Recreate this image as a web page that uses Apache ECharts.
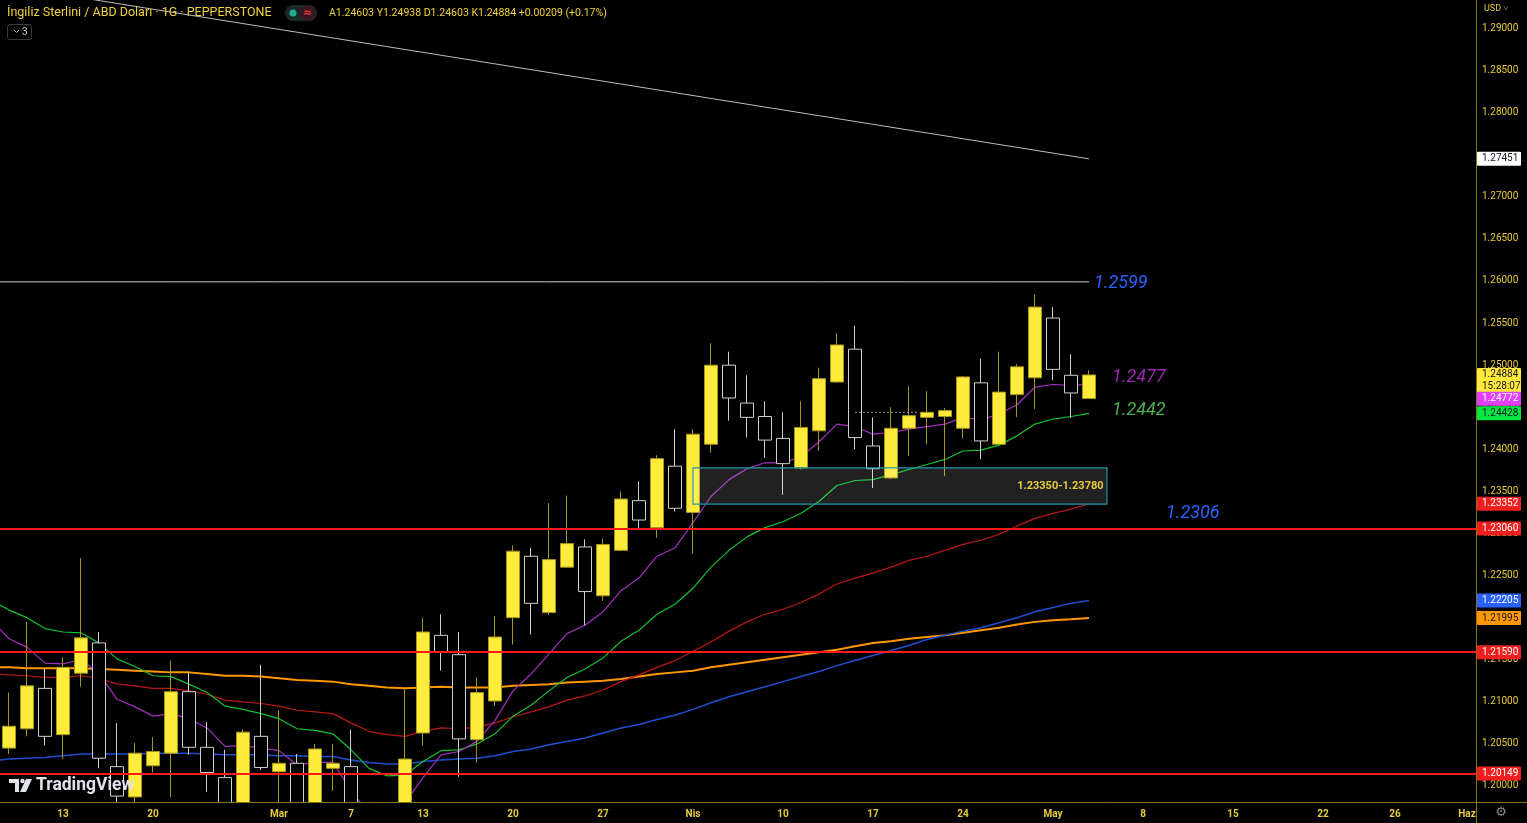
<!DOCTYPE html>
<html><head><meta charset="utf-8">
<script src="https://cdn.jsdelivr.net/npm/echarts@6/dist/echarts.min.js"></script>
<style>html,body{margin:0;padding:0;background:#000;}#c{width:1527px;height:823px;}</style>
</head><body><div id="c"></div>
<script>
// ---- categories (trading days) ----
const dates = [
 '2023-02-08','2023-02-09','2023-02-10',
 '2023-02-13','2023-02-14','2023-02-15','2023-02-16','2023-02-17',
 '2023-02-20','2023-02-21','2023-02-22','2023-02-23','2023-02-24',
 '2023-02-27','2023-02-28','2023-03-01','2023-03-02','2023-03-03',
 '2023-03-06','2023-03-07','2023-03-08','2023-03-09','2023-03-10',
 '2023-03-13','2023-03-14','2023-03-15','2023-03-16','2023-03-17',
 '2023-03-20','2023-03-21','2023-03-22','2023-03-23','2023-03-24',
 '2023-03-27','2023-03-28','2023-03-29','2023-03-30','2023-03-31',
 '2023-04-03','2023-04-04','2023-04-05','2023-04-06','2023-04-07',
 '2023-04-10','2023-04-11','2023-04-12','2023-04-13','2023-04-14',
 '2023-04-17','2023-04-18','2023-04-19','2023-04-20','2023-04-21',
 '2023-04-24','2023-04-25','2023-04-26','2023-04-27','2023-04-28',
 '2023-05-01','2023-05-02','2023-05-03','2023-05-04','2023-05-05',
 '2023-05-08','2023-05-09','2023-05-10','2023-05-11','2023-05-12',
 '2023-05-15','2023-05-16','2023-05-17','2023-05-18','2023-05-19',
 '2023-05-22','2023-05-23','2023-05-24','2023-05-25','2023-05-26',
 '2023-05-29','2023-05-30','2023-05-31','2023-06-01'
];
// ---- candles [open, close, low, high] ----
const candles = [
 [1.2045,1.2071,1.2038,1.2111],[1.2068,1.2119,1.2059,1.2195],[1.2116,1.2059,1.2048,1.2140],
 [1.2061,1.2141,1.2032,1.2153],[1.2134,1.2176,1.2118,1.2271],[1.2170,1.2033,1.2021,1.2183],[1.2023,1.1988,1.1965,1.2075],[1.1987,1.2039,1.1915,1.2051],
 [1.2024,1.2041,1.2016,1.2058],[1.2039,1.2112,1.1987,1.2149],[1.2112,1.2046,1.2037,1.2136],[1.2046,1.2016,1.1993,1.2076],[1.2010,1.1945,1.1925,1.2043],
 [1.1945,1.2064,1.1925,1.2067],[1.2059,1.2022,1.2019,1.2144],[1.2017,1.2027,1.1940,1.2090],[1.2027,1.1950,1.1920,1.2038],[1.1955,1.2044,1.1940,1.2050],
 [1.2021,1.2027,1.1994,1.2050],[1.2023,1.1830,1.1810,1.2067],[1.1830,1.1835,1.1805,1.1865],[1.1835,1.1955,1.1815,1.1965],[1.1955,1.2032,1.1935,1.2115],
 [1.2063,1.2183,1.2048,1.2200],[1.2179,1.2159,1.2137,1.2204],[1.2156,1.2056,1.2011,1.2183],[1.2055,1.2111,1.2028,1.2129],[1.2101,1.2177,1.2095,1.2202],
 [1.2200,1.2279,1.2168,1.2286],[1.2273,1.2217,1.2180,1.2283],[1.2206,1.2269,1.2203,1.2336],[1.2260,1.2288,1.2259,1.2345],[1.2284,1.2231,1.2191,1.2293],
 [1.2226,1.2287,1.2220,1.2294],[1.2280,1.2341,1.2279,1.2350],[1.2339,1.2316,1.2304,1.2362],[1.2307,1.2389,1.2295,1.2393],[1.2380,1.2330,1.2326,1.2424],
 [1.2325,1.2418,1.2276,1.2424],[1.2406,1.2500,1.2396,1.2526],[1.2500,1.2461,1.2434,1.2516],[1.2455,1.2438,1.2414,1.2488],[1.2439,1.2411,1.2390,1.2457],
 [1.2413,1.2383,1.2346,1.2444],[1.2378,1.2426,1.2376,1.2457],[1.2422,1.2484,1.2398,1.2497],[1.2480,1.2524,1.2479,1.2538],[1.2519,1.2414,1.2400,1.2547],
 [1.2404,1.2377,1.2354,1.2438],[1.2366,1.2425,1.2365,1.2450],[1.2425,1.2440,1.2392,1.2475],[1.2438,1.2444,1.2406,1.2469],[1.2439,1.2446,1.2368,1.2449],
 [1.2425,1.2486,1.2413,1.2487],[1.2479,1.2410,1.2388,1.2508],[1.2406,1.2468,1.2405,1.2516],[1.2465,1.2498,1.2438,1.2501],[1.2485,1.2569,1.2448,1.2584],
 [1.2556,1.2495,1.2482,1.2569],[1.2488,1.2467,1.2437,1.2513],[1.24603,1.24884,1.24603,1.24938]
];
// ---- moving averages: first value is read at the left edge of the plot, then one value per bar ----
const maPurple = [1.2186,1.2175,1.2165,1.2146,1.2145,1.2150,1.2134,1.2103,1.2094,1.2083,1.2086,1.2080,1.2069,1.2047,1.2048,1.2045,1.2042,1.2025,1.2028,1.2028,
 1.1994,1.1968,1.1962,1.1980,1.2010,1.2037,1.2041,1.2053,1.2078,1.2113,1.2133,1.2157,1.2181,1.2191,1.2207,1.2232,1.2247,1.2273,1.2283,1.2313,
 1.2344,1.2364,1.2377,1.2384,1.2384,1.2391,1.2409,1.2430,1.2427,1.2418,1.2420,1.2424,1.2427,1.2430,1.2438,1.2435,1.2442,1.2453,1.2474,1.2477,1.2476,1.24772];
const maGreen = [1.2215,1.2209,1.2200,1.2187,1.2183,1.2182,1.2170,1.2151,1.2142,1.2131,1.2130,1.2121,1.2111,1.2095,1.2091,1.2086,1.2080,1.2068,1.2066,1.2062,
 1.2043,1.2021,1.2012,1.2013,1.2029,1.2042,1.2043,1.2050,1.2062,1.2083,1.2096,1.2113,1.2129,1.2139,1.2152,1.2172,1.2185,1.2204,1.2216,1.2235,
 1.2260,1.2280,1.2296,1.2307,1.2314,1.2324,1.2338,1.2357,1.2363,1.2364,1.2370,1.2376,1.2382,1.2388,1.2398,1.2399,1.2405,1.2416,1.2430,1.2436,1.2439,1.24428];
const maRed = [1.2133,1.2132,1.2131,1.2129,1.2129,1.2131,1.2128,1.2121,1.2119,1.2116,1.2116,1.2113,1.2109,1.2102,1.2100,1.2098,1.2095,1.2090,1.2088,1.2086,
 1.2075,1.2065,1.2061,1.2059,1.2065,1.2069,1.2068,1.2070,1.2075,1.2082,1.2088,1.2094,1.2102,1.2107,1.2114,1.2124,1.2132,1.2141,1.2149,1.2160,
 1.2171,1.2184,1.2195,1.2204,1.2210,1.2218,1.2228,1.2240,1.2247,1.2253,1.2260,1.2268,1.2273,1.2280,1.2287,1.2292,1.2299,1.2309,1.2318,1.2324,1.2329,1.23352];
const maBlue = [1.2031,1.2032,1.2033,1.2034,1.2036,1.2038,1.2038,1.2038,1.2038,1.2039,1.2039,1.2039,1.2038,1.2037,1.2037,1.2037,1.2036,1.2036,1.2035,1.2035,
 1.2031,1.2028,1.2026,1.2026,1.2029,1.2031,1.2032,1.2033,1.2036,1.2041,1.2044,1.2049,1.2053,1.2057,1.2063,1.2069,1.2073,1.2079,1.2084,1.2091,
 1.2099,1.2106,1.2112,1.2118,1.2124,1.2130,1.2136,1.2143,1.2149,1.2155,1.2161,1.2167,1.2174,1.2179,1.2184,1.2188,1.2194,1.2200,1.2207,1.2212,1.2217,1.22205];
const maOrange = [1.2141,1.2141,1.2140,1.2140,1.2140,1.2140,1.2139,1.2138,1.2137,1.2136,1.2135,1.2135,1.2133,1.2131,1.2131,1.2130,1.2128,1.2126,1.2125,1.2124,
 1.2121,1.2119,1.2117,1.2116,1.2117,1.2118,1.2117,1.2117,1.2117,1.2119,1.2120,1.2121,1.2123,1.2124,1.2125,1.2127,1.2130,1.2133,1.2135,1.2137,
 1.2141,1.2144,1.2147,1.2150,1.2153,1.2156,1.2159,1.2162,1.2166,1.2170,1.2172,1.2175,1.2177,1.2179,1.2182,1.2185,1.2188,1.2192,1.2195,1.2197,1.2198,1.21995];
// ---- levels / drawings ----
const redLevels = [1.2306, 1.2159, 1.20149];
const zoneLow = 1.2335, zoneHigh = 1.2378;
const zoneFrom = 38, zoneTo = 61;   // bar indexes (Apr 3 .. May 4)
const resistance = 1.2599;
const trendStart = 1.2952, trendEnd = 1.27451;
const dottedLevel = 1.2444;
const lastPrice = 1.24884, lastTime = '15:28:07';
const noteTexts = ['1.2599', '1.2477', '1.2442', '1.2306'];
const noteValues = [1.2599, 1.2477, 1.2442, 1.2306];
// ---- axis ticks ----
const yTicks = [1.20,1.205,1.21,1.215,1.22,1.225,1.23,1.235,1.24,1.245,1.25,1.255,1.26,1.265,1.27,1.28,1.285,1.29];
const xTickDates = ['2023-02-13','2023-02-20','2023-03-01','2023-03-07','2023-03-13','2023-03-20','2023-03-27','2023-04-03','2023-04-10','2023-04-17','2023-04-24','2023-05-01','2023-05-08','2023-05-15','2023-05-22','2023-05-26','2023-06-01'];
const xTickLabels = ['13','20','Mar','7','13','20','27','Nis','10','17','24','May','8','15','22','26','Haz'];

const YEL = '#e8cc3e';
const AXIS = '#8a7616';
const FONT = 'Roboto';
const lastIdx = candles.length - 1;
const xLabelMap = {};
xTickDates.forEach((d, i) => xLabelMap[d] = xTickLabels[i]);
const maData = arr => arr.map((v, i) => [i === 0 ? -0.5 : i - 1, v]);

function tag(value, text, bg, fg, offset) {
  return {
    yAxis: value,
    lineStyle: { color: 'rgba(0,0,0,0)', width: 0 },
    label: { show: true, position: 'end', distance: 1, formatter: text, backgroundColor: bg, color: fg,
      fontFamily: FONT, fontSize: 10, padding: [1, 5, 1, 5], width: 34, lineHeight: 12, borderRadius: 1,
      offset: offset || [0, 0] }
  };
}
function redLine(v) {
  return {
    yAxis: v,
    lineStyle: { color: '#ff1a1a', width: 2, type: 'solid' },
    label: { show: true, position: 'end', distance: 1, formatter: v.toFixed(5), backgroundColor: '#f01e1e', color: '#fff',
      fontFamily: FONT, fontSize: 10, padding: [1, 5, 1, 5], width: 34, lineHeight: 12, borderRadius: 1 }
  };
}
function txt(coord, text, color, offset) {
  return { coord: coord, symbol: 'circle', symbolSize: 0, itemStyle: { color: 'transparent' },
    label: { show: true, position: 'right', distance: 5, formatter: text, color: color, fontSize: 18,
      fontStyle: 'italic', fontFamily: FONT, offset: offset } };
}

const chart = echarts.init(document.getElementById('c'), null, { renderer: 'canvas' });
const lineBase = { type: 'line', xAxisIndex: 1, showSymbol: false, symbol: 'none', smooth: false, z: 2, silent: true, animation: false, clip: true };

chart.setOption({
  backgroundColor: '#000000',
  animation: false,
  grid: { left: 0, right: 51, top: 0, bottom: 21, containLabel: false },
  xAxis: [{
    type: 'category', data: dates, boundaryGap: true, z: 10,
    axisLine: { show: true, onZero: false, lineStyle: { color: AXIS, width: 1 } },
    axisTick: { show: false },
    splitLine: { show: false },
    axisLabel: {
      color: YEL, fontFamily: FONT, fontSize: 10, fontWeight: 'bold', margin: 7,
      interval: (idx, v) => xLabelMap[v] !== undefined,
      formatter: v => xLabelMap[v] || ''
    }
  }, {
    // same bar positions as the category axis, but able to place points between bars
    type: 'value', min: -0.5, max: dates.length - 0.5, show: false,
    axisLine: { show: false, onZero: false }, splitLine: { show: false }
  }],
  yAxis: {
    type: 'value', position: 'right', min: 1.198099, max: 1.293386, scale: true,
    axisLine: { show: true, onZero: false, lineStyle: { color: AXIS, width: 1 } },
    axisTick: { show: false },
    splitLine: { show: false },
    axisLabel: { color: YEL, fontFamily: FONT, fontSize: 10, margin: 6, customValues: yTicks,
      formatter: v => v.toFixed(5) }
  },
  series: [
    Object.assign({}, lineBase, { name: 'trend', data: [[-0.5, trendStart], [lastIdx, trendEnd]], lineStyle: { color: '#bdbdbd', width: 1 } }),
    Object.assign({}, lineBase, { name: 'res', data: [[-0.5, resistance], [lastIdx, resistance]], lineStyle: { color: '#cfcfcf', width: 1 } }),
    Object.assign({}, lineBase, { name: 'orange', data: maData(maOrange), lineStyle: { color: '#ff9800', width: 2 } }),
    Object.assign({}, lineBase, { name: 'blue', data: maData(maBlue), lineStyle: { color: '#1f4fd0', width: 1.5 } }),
    Object.assign({}, lineBase, { name: 'red', data: maData(maRed), lineStyle: { color: '#b81818', width: 1.2 } }),
    Object.assign({}, lineBase, { name: 'green', data: maData(maGreen), lineStyle: { color: '#12c22e', width: 1.2 } }),
    Object.assign({}, lineBase, { name: 'purple', data: maData(maPurple), lineStyle: { color: '#a12fc0', width: 1.2 } }),
    {
      type: 'candlestick', name: 'GBPUSD', xAxisIndex: 0, data: candles, barWidth: 13, z: 3, silent: true, animation: false,
      itemStyle: { color: '#ffeb3b', color0: '#000000', borderColor: '#a8961a', borderColor0: '#cfcfcf', borderWidth: 1 },
      markLine: {
        silent: true, symbol: ['none', 'none'], animation: false, precision: 6,
        data: [
          redLine(redLevels[0]), redLine(redLevels[1]), redLine(redLevels[2]),
          tag(trendEnd, trendEnd.toFixed(5), '#ffffff', '#131722'),
          tag(lastPrice, lastPrice.toFixed(5) + '\n' + lastTime, '#ffe93b', '#131722', [0, 6]),
          tag(maPurple[maPurple.length - 1], maPurple[maPurple.length - 1].toFixed(5), '#e040fb', '#ffffff', [0, 14.5]),
          tag(maGreen[maGreen.length - 1], maGreen[maGreen.length - 1].toFixed(5), '#00e640', '#131722', [0, 0]),
          tag(maRed[maRed.length - 1], maRed[maRed.length - 1].toFixed(5), '#f01e1e', '#ffffff'),
          tag(maBlue[maBlue.length - 1], maBlue[maBlue.length - 1].toFixed(5), '#2962ff', '#ffffff'),
          tag(maOrange[maOrange.length - 1], maOrange[maOrange.length - 1].toFixed(5), '#ff9800', '#131722')
        ]
      },
      markPoint: {
        silent: true, animation: false,
        data: [
          txt([lastIdx, noteValues[0]], noteTexts[0], '#2962ff', [0, 2]),
          txt([lastIdx, noteValues[1]], noteTexts[1], '#9c27b0', [18, -7]),
          txt([lastIdx, noteValues[2]], noteTexts[2], '#4caf50', [18, -3]),
          txt([lastIdx + 4, noteValues[3]], noteTexts[3], '#2962ff', [0, -15])
        ]
      }
    },
    // drawings above the candles: dotted level and the support zone box
    Object.assign({}, lineBase, {
      name: 'dot', z: 4, data: [[47, dottedLevel], [50.5, dottedLevel]], lineStyle: { color: '#9a9a9a', width: 1, type: [2, 2] },
      markArea: {
        silent: true, z: 4,
        itemStyle: { color: 'rgba(255,255,255,0.13)', borderColor: '#2296a8', borderWidth: 1.2 },
        label: { show: true, position: 'insideRight', distance: 4, color: YEL, fontFamily: FONT, fontSize: 11, fontWeight: 'bold',
          formatter: zoneLow.toFixed(5) + '-' + zoneHigh.toFixed(5) },
        data: [[{ coord: [zoneFrom, zoneHigh] }, { coord: [zoneTo, zoneLow] }]]
      }
    })
  ],
  graphic: [
    // cover for candle parts that fall below the plot
    { type: 'rect', z: 5, shape: { x: 0, y: 803, width: 1476, height: 20 }, style: { fill: '#000' }, silent: true },
    { type: 'text', x: 7, y: 13, z: 10, style: { text: 'İngiliz Sterlini / ABD Doları · 1G · PEPPERSTONE', fill: '#f2d03a', font: '12.5px Roboto', align: 'left', verticalAlign: 'middle' } },
    { type: 'rect', z: 10, shape: { x: 285, y: 5, width: 32, height: 16, r: 8 }, style: { fill: '#1b2a26' } },
    { type: 'circle', z: 11, shape: { cx: 293, cy: 13, r: 3.5 }, style: { fill: '#22ab94' } },
    { type: 'rect', z: 11, shape: { x: 300, y: 6, width: 15, height: 14, r: 7 }, style: { fill: '#3b1622' } },
    { type: 'text', z: 12, x: 307.5, y: 13, style: { text: '≈', fill: '#f23645', font: 'bold 11px DejaVu Sans', align: 'center', verticalAlign: 'middle' } },
    { type: 'text', z: 10, x: 329, y: 13, style: { text: 'A1.24603 Y1.24938 D1.24603 K1.24884 +0.00209 (+0.17%)', fill: '#f2d03a', font: '10.5px Roboto', align: 'left', verticalAlign: 'middle' } },
    { type: 'rect', z: 10, shape: { x: 7.5, y: 24.5, width: 24, height: 15, r: 2 }, style: { fill: '#000', stroke: '#3a3a3a', lineWidth: 1 } },
    { type: 'polyline', z: 11, shape: { points: [[14, 30], [16.5, 32.5], [19, 30]] }, style: { stroke: '#b8b8b8', lineWidth: 1, fill: null } },
    { type: 'text', z: 11, x: 22, y: 32, style: { text: '3', fill: '#c8c8c8', font: '10px Roboto', align: 'left', verticalAlign: 'middle' } },
    { type: 'text', z: 10, x: 1484, y: 9, style: { text: 'USD ˅', fill: YEL, font: '9px Roboto', align: 'left', verticalAlign: 'middle' } },
    { type: 'line', z: 10, shape: { x1: 1476.5, y1: 0, x2: 1476.5, y2: 823 }, style: { stroke: AXIS, lineWidth: 1 } },
    { type: 'line', z: 10, shape: { x1: 1476, y1: 802.5, x2: 1527, y2: 802.5 }, style: { stroke: AXIS, lineWidth: 1 } },
    { type: 'text', z: 10, x: 1501, y: 813, style: { text: '⚙', fill: '#8a8a8a', font: '13px DejaVu Sans', align: 'center', verticalAlign: 'middle' } },
    // TradingView watermark
    { type: 'polygon', z: 10, shape: { points: [[9, 779], [19, 779], [19, 792], [15, 792], [15, 783], [9, 783]] }, style: { fill: '#dfe2ea' } },
    { type: 'circle', z: 10, shape: { cx: 22.5, cy: 781, r: 2.2 }, style: { fill: '#dfe2ea' } },
    { type: 'polygon', z: 10, shape: { points: [[26, 779], [32, 779], [26, 792], [20, 792]] }, style: { fill: '#dfe2ea' } },
    { type: 'text', z: 10, x: 36, y: 786, style: { text: 'TradingView', fill: '#dfe2ea', font: 'bold 17.5px Roboto', align: 'left', verticalAlign: 'middle' } }
  ]
});
</script>
</body></html>
